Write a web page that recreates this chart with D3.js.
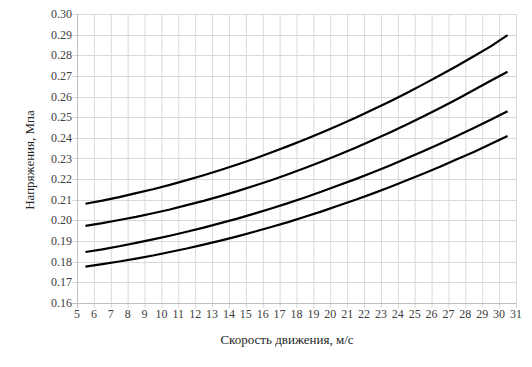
<!DOCTYPE html>
<html><head><meta charset="utf-8">
<script src="https://cdn.jsdelivr.net/npm/d3@7"></script>
<style>body{margin:0;background:#fff;}svg{display:block;}</style>
</head><body>
<svg id="c" width="532" height="367"></svg>
<script>
const speeds = [5.5,6.5,7.5,8.5,9.5,10.5,11.5,12.5,13.5,14.5,15.5,16.5,17.5,18.5,19.5,20.5,21.5,22.5,23.5,24.5,25.5,26.5,27.5,28.5,29.5,30.5];
const series1 = [0.2081,0.2096,0.2113,0.2132,0.2151,0.2172,0.2195,0.2219,0.2244,0.2271,0.2299,0.2329,0.2360,0.2392,0.2426,0.2461,0.2497,0.2536,0.2575,0.2616,0.2659,0.2703,0.2748,0.2795,0.2843,0.2898];
const series2 = [0.1974,0.1987,0.2002,0.2017,0.2035,0.2053,0.2074,0.2095,0.2118,0.2142,0.2168,0.2195,0.2224,0.2254,0.2285,0.2318,0.2352,0.2388,0.2425,0.2464,0.2503,0.2545,0.2587,0.2632,0.2677,0.2720];
const series3 = [0.1847,0.1860,0.1875,0.1891,0.1908,0.1926,0.1945,0.1965,0.1987,0.2009,0.2033,0.2058,0.2084,0.2111,0.2140,0.2170,0.2200,0.2232,0.2265,0.2300,0.2335,0.2372,0.2409,0.2448,0.2488,0.2529];
const series4 = [0.1776,0.1788,0.1801,0.1815,0.1830,0.1847,0.1864,0.1883,0.1902,0.1923,0.1945,0.1968,0.1992,0.2018,0.2044,0.2072,0.2100,0.2130,0.2161,0.2193,0.2226,0.2260,0.2296,0.2332,0.2370,0.2409];
const xTicks = d3.range(5, 32, 1);
const yTicks = [0.16,0.17,0.18,0.19,0.20,0.21,0.22,0.23,0.24,0.25,0.26,0.27,0.28,0.29,0.30];
const xTitle = "Скорость движения, м/с";
const yTitle = "Напряжения, Мпа";

const svg = d3.select("#c");
const L = 77, R = 516, T = 14, B = 303;
const x = d3.scaleLinear().domain([5, 31]).range([L, R]);
const y = d3.scaleLinear().domain([0.16, 0.30]).range([B, T]);
const font = "'Liberation Serif','Times New Roman',serif";

// grid
const g = svg.append("g");
g.selectAll("line.vx").data(xTicks).join("line")
  .attr("x1", d => x(d) + 0.5).attr("x2", d => x(d) + 0.5)
  .attr("y1", T).attr("y2", B + 5)
  .attr("stroke", "#d9d9d9").attr("stroke-width", 1);
g.selectAll("line.hy").data(yTicks).join("line")
  .attr("y1", d => Math.round(y(d)) + 0.5).attr("y2", d => Math.round(y(d)) + 0.5)
  .attr("x1", L - 5).attr("x2", R)
  .attr("stroke", "#d9d9d9").attr("stroke-width", 1);
// axis lines
svg.append("line").attr("x1", L + 0.5).attr("x2", L + 0.5).attr("y1", T).attr("y2", B + 5)
  .attr("stroke", "#bfbfbf");
svg.append("line").attr("x1", L - 5).attr("x2", R).attr("y1", Math.round(y(0.16)) + 0.5).attr("y2", Math.round(y(0.16)) + 0.5)
  .attr("stroke", "#bfbfbf");

// tick labels
svg.selectAll("text.yl").data(yTicks).join("text")
  .attr("x", L - 5).attr("y", d => y(d) + 4)
  .attr("text-anchor", "end").attr("font-family", font).attr("font-size", 12)
  .attr("fill", "#404040").text(d => d3.format(".2f")(d));
svg.selectAll("text.xl").data(xTicks).join("text")
  .attr("x", d => x(d)).attr("y", B + 15)
  .attr("text-anchor", "middle").attr("font-family", font).attr("font-size", 12)
  .attr("fill", "#404040").text(d => d);

// titles
svg.append("text").attr("x", 287).attr("y", 344).attr("text-anchor", "middle")
  .attr("font-family", font).attr("font-size", 13).attr("fill", "#262626").text(xTitle);
svg.append("text").attr("transform", "translate(34,160) rotate(-90)").attr("text-anchor", "middle")
  .attr("font-family", font).attr("font-size", 13).attr("fill", "#262626").text(yTitle);

// lines
const line = d3.line().x((d, i) => x(speeds[i])).y(d => y(d));
[series1, series2, series3, series4].forEach(s => {
  svg.append("path").attr("d", line(s)).attr("fill", "none")
    .attr("stroke", "#000").attr("stroke-width", 2.2).attr("stroke-linejoin", "round");
});
</script>
</body></html>
